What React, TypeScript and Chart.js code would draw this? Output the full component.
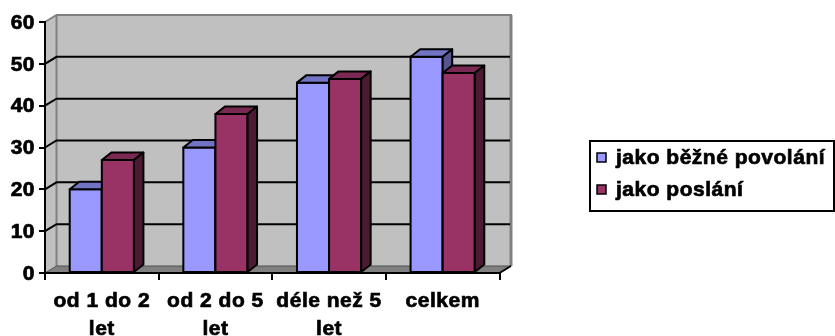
import React, { useEffect, useRef } from "react";
import { Chart, registerables } from "chart.js";

Chart.register(...registerables);

// Category labels (multi-line) along the bottom axis
const categories: string[][] = [
  ["od 1 do 2", "let"],
  ["od 2 do 5", "let"],
  ["déle než 5", "let"],
  ["celkem"],
];
const seriesNames = ["jako běžné povolání", "jako poslání"];
const bezneValues = [20, 30, 45.5, 51.7];
const poslaniValues = [27, 38, 46.4, 47.8];
const yTicks = [0, 10, 20, 30, 40, 50, 60];

const FONT = "'Liberation Sans', Arial, sans-serif";
const FONT_SIZE = 21;
const TEXT_STROKE = 0.7;
const FRONT = ["#9999FF", "#993366"];
const TOP = ["#7373C4", "#7A2952"];
const SIDE = ["#55558F", "#4D1A33"];
const WALL = "#C0C0C0";
const WALL_EDGE = "#808080";
const FLOOR = "#808080";
const WALL_DX = 11.5;
const WALL_DY = -7;
const BAR_DX = 9.5;
const BAR_DY = -7.5;
const LETTER_SPACING = "0.5px";

function poly(ctx: CanvasRenderingContext2D, pts: number[][], fill: string | null, stroke: string | null, lw = 2) {
  ctx.beginPath();
  ctx.moveTo(pts[0][0], pts[0][1]);
  for (let i = 1; i < pts.length; i++) ctx.lineTo(pts[i][0], pts[i][1]);
  ctx.closePath();
  if (fill) {
    ctx.fillStyle = fill;
    ctx.fill();
  }
  if (stroke) {
    ctx.strokeStyle = stroke;
    ctx.lineWidth = lw;
    ctx.stroke();
  }
}

// Back wall, side wall, floor and gridlines of the 3D plot box
const wallsPlugin = {
  id: "walls3d",
  beforeDraw(chart: any) {
    const ctx: CanvasRenderingContext2D = chart.ctx;
    (ctx as any).letterSpacing = LETTER_SPACING;
    const { left, right, top, bottom } = chart.chartArea;
    const yScale = chart.scales.y;
    const dx = WALL_DX;
    const dy = WALL_DY;
    ctx.save();
    ctx.lineJoin = "miter";
    // back wall
    poly(ctx, [[left + dx, top + dy], [right + dx, top + dy], [right + dx, bottom + dy], [left + dx, bottom + dy]], WALL, null);
    // side wall
    poly(ctx, [[left, top], [left + dx, top + dy], [left + dx, bottom + dy], [left, bottom]], WALL, null);
    // floor
    poly(ctx, [[left, bottom], [left + dx, bottom + dy], [right + dx, bottom + dy], [right, bottom]], FLOOR, null);

    // wall edges
    ctx.strokeStyle = WALL_EDGE;
    ctx.lineWidth = 2;
    ctx.beginPath();
    ctx.moveTo(left, top);
    ctx.lineTo(left + dx, top + dy);
    ctx.lineTo(right + dx, top + dy);
    ctx.lineTo(right + dx, bottom + dy);
    ctx.moveTo(left + dx, top + dy);
    ctx.lineTo(left + dx, bottom + dy);
    ctx.stroke();
    ctx.lineWidth = 3;
    ctx.beginPath();
    ctx.moveTo(right + dx, top + dy);
    ctx.lineTo(right + dx, bottom + dy);
    ctx.stroke();

    // gridlines along side wall and back wall
    ctx.strokeStyle = "#000";
    ctx.lineWidth = 2;
    for (const v of yTicks) {
      if (v === yTicks[0] || v === yTicks[yTicks.length - 1]) continue;
      const y = yScale.getPixelForValue(v);
      ctx.beginPath();
      ctx.moveTo(left, y);
      ctx.lineTo(left + dx, y + dy);
      ctx.lineTo(right + dx - 1, y + dy);
      ctx.stroke();
    }

    // floor edges
    ctx.strokeStyle = "#505050";
    ctx.lineWidth = 1;
    ctx.beginPath();
    ctx.moveTo(left, bottom);
    ctx.lineTo(left + dx, bottom + dy);
    ctx.lineTo(right + dx, bottom + dy);
    ctx.stroke();
    ctx.strokeStyle = "#000";
    ctx.lineWidth = 2;
    ctx.beginPath();
    ctx.moveTo(right, bottom);
    ctx.lineTo(right + dx, bottom + dy);
    ctx.stroke();
    ctx.restore();
  },
};

// Bars with top and side faces, drawn per category so nearer faces cover farther ones
const bars3dPlugin = {
  id: "bars3d",
  afterDatasetsDraw(chart: any) {
    const ctx: CanvasRenderingContext2D = chart.ctx;
    const metas = chart.data.datasets.map((_: any, i: number) => chart.getDatasetMeta(i));
    ctx.save();
    ctx.lineJoin = "round";
    for (let i = 0; i < categories.length; i++) {
      metas.forEach((meta: any, d: number) => {
        const el = meta.data[i];
        if (!el) return;
        const { x, y, base, width } = el.getProps(["x", "y", "base", "width"], true);
        const L = x - width / 2;
        const R = x + width / 2;
        poly(ctx, [[L, y], [R, y], [R, base], [L, base]], FRONT[d], "#000", 2);
        poly(ctx, [[L, y], [L + BAR_DX, y + BAR_DY], [R + BAR_DX, y + BAR_DY], [R, y]], TOP[d], "#000", 2);
        poly(ctx, [[R, y], [R + BAR_DX, y + BAR_DY], [R + BAR_DX, base + BAR_DY], [R, base]], SIDE[d], "#000", 2);
      });
    }
    ctx.restore();
  },
};

// Boxed legend on the right
const legendPlugin = {
  id: "boxLegend",
  afterDraw(chart: any) {
    const ctx: CanvasRenderingContext2D = chart.ctx;
    ctx.save();
    (ctx as any).letterSpacing = LETTER_SPACING;
    ctx.strokeStyle = "#000";
    ctx.lineWidth = 2;
    ctx.strokeRect(590, 141, 244, 70);
    ctx.font = `bold ${FONT_SIZE}px ${FONT}`;
    ctx.textBaseline = "middle";
    ctx.textAlign = "left";
    chart.data.datasets.forEach((ds: any, i: number) => {
      const cy = 158 + i * 32;
      ctx.fillStyle = ds.backgroundColor;
      ctx.fillRect(597, cy - 5, 9, 9);
      ctx.lineWidth = 1.5;
      ctx.strokeRect(597, cy - 5, 9, 9);
      ctx.fillStyle = "#000";
      ctx.lineWidth = TEXT_STROKE;
      ctx.strokeText(ds.label, 616, cy);
      ctx.fillText(ds.label, 616, cy);
    });
    ctx.restore();
  },
};

export default function App() {
  const ref = useRef<HTMLCanvasElement | null>(null);

  useEffect(() => {
    document.body.style.margin = "0";
    const canvas = ref.current;
    if (!canvas) return;
    const tickFont = { family: FONT, size: FONT_SIZE, weight: "bold" as const, lineHeight: 28 / FONT_SIZE };
    const chart = new Chart(canvas, {
      type: "bar",
      data: {
        labels: categories,
        datasets: [
          { label: seriesNames[0], data: bezneValues, backgroundColor: FRONT[0], borderWidth: 0 },
          { label: seriesNames[1], data: poslaniValues, backgroundColor: FRONT[1], borderWidth: 0 },
        ],
      },
      options: {
        responsive: false,
        animation: false,
        devicePixelRatio: 1,
        layout: { padding: { left: 0, top: 22, right: 335.5, bottom: 0 } },
        datasets: { bar: { categoryPercentage: 0.565, barPercentage: 1 } },
        plugins: { legend: { display: false }, tooltip: { enabled: false } },
        scales: {
          x: {
            afterFit: (scale: any) => {
              scale.height = 63;
            },
            border: { display: true, color: "#000", width: 2 },
            grid: { offset: true, drawOnChartArea: false, drawTicks: true, tickLength: 7, color: "#000", lineWidth: 2 },
            ticks: {
              font: tickFont,
              color: "#000",
              padding: 7,
              autoSkip: false,
              maxRotation: 0,
              textStrokeColor: "#000",
              textStrokeWidth: TEXT_STROKE,
            },
          },
          y: {
            min: yTicks[0],
            max: yTicks[yTicks.length - 1],
            afterBuildTicks: (scale: any) => {
              scale.ticks = yTicks.map((v) => ({ value: v }));
            },
            afterFit: (scale: any) => {
              scale.width = 45;
            },
            border: { display: true, color: "#000", width: 2 },
            grid: { drawOnChartArea: false, drawTicks: true, tickLength: 6, color: "#000", lineWidth: 2 },
            ticks: {
              font: { family: FONT, size: FONT_SIZE, weight: "bold" as const },
              color: "#000",
              padding: 4,
              labelOffset: 1,
              textStrokeColor: "#000",
              textStrokeWidth: TEXT_STROKE,
            },
          },
        },
      },
      plugins: [wallsPlugin, bars3dPlugin, legendPlugin],
    });
    return () => chart.destroy();
  }, []);

  return <canvas ref={ref} width={835} height={336} style={{ display: "block" }} />;
}
